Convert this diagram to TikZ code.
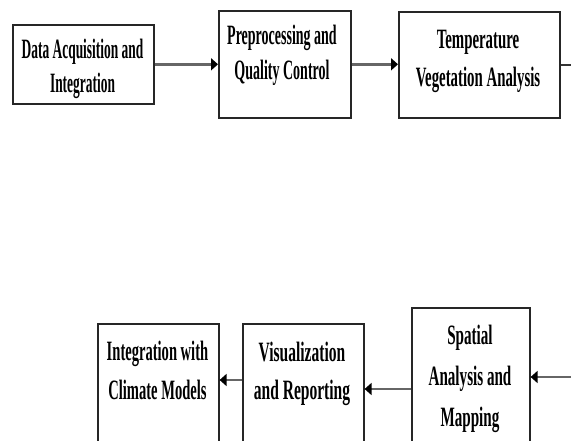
\documentclass[tikz,border=0pt]{standalone}
\usepackage{fontspec}
\setmainfont{Liberation Serif}[FakeStretch=0.51]
\newfontfamily\condA{Liberation Serif}[FakeStretch=0.48]
\newfontfamily\condB{Liberation Serif}[FakeStretch=0.50]
\newfontfamily\condC{Liberation Serif}[FakeStretch=0.53]
\newfontfamily\condD{Liberation Serif}[FakeStretch=0.52]
\newfontfamily\condE{Liberation Serif}[FakeStretch=0.555]
\newfontfamily\condF{Liberation Serif}[FakeStretch=0.54]
\usetikzlibrary{arrows.meta}
\begin{document}
\begin{tikzpicture}[x=1pt,y=-1pt,
  boxnode/.style={draw=black!85, line width=1.6pt, rectangle, anchor=north west, inner sep=0pt},
  txt/.style 2 args={anchor=north, align=center, inner sep=0pt, font=#2\bfseries\fontsize{28}{#1}\selectfont},
  flow/.style={draw=black!60, line width=2.6pt, -{Triangle[length=7pt,width=12pt,color=black]}},
  plain/.style={draw=black!80, line width=2pt},
]
\useasboundingbox (0,0) rectangle (571,441);
\clip (0,0) rectangle (571,441);
\fill[white] (0,0) rectangle (571,441);
% top row
\node[boxnode, minimum width=141pt, minimum height=79pt] (b1) at (12,24) {};
\node[boxnode, minimum width=132pt, minimum height=107pt] (b2) at (218,10) {};
\node[boxnode, minimum width=161pt, minimum height=106pt] (b3) at (398,11) {};
\node[txt={34}{\condA}] (t1) at (82.5,39) {Data Acquisition and\\Integration};
\node[txt={35}{\condB}] (t2) at (282,25) {Preprocessing and\\Quality Control};
\node[txt={38}{\condC}] (t3) at (478,30) {Temperature\\Vegetation Analysis};
% bottom row
\node[boxnode, minimum width=121pt, minimum height=150pt] (bA) at (97,323) {};
\node[boxnode, minimum width=121pt, minimum height=150pt] (bB) at (242,323) {};
\node[boxnode, minimum width=118pt, minimum height=160pt] (bC) at (411,307) {};
\node[txt={39}{\condD}] (tA) at (157.5,341) {Integration with\\Climate Models};
\node[txt={38}{\condE}] (tB) at (302,342) {Visualization\\and Reporting};
\node[txt={41}{\condF}] (tC) at (470,325) {Spatial\\Analysis and\\Mapping};
% connectors
\coordinate (outR) at (575,63);
\coordinate (inR) at (575,377);
\draw[flow] (b1.east) -- (b1.east -| b2.west);
\draw[flow] (b2.east) -- (b2.east -| b3.west);
\draw[plain] (b3.east) -- (b3.east -| outR);
\draw[flow] (inR) -- (inR -| bC.east);
\draw[flow] ([yshift=-82pt]bC.north west) -- ([yshift=-82pt]bC.north west -| bB.east);
\draw[flow] ([yshift=-57pt]bB.north west) -- ([yshift=-57pt]bB.north west -| bA.east);
\end{tikzpicture}
\end{document}
